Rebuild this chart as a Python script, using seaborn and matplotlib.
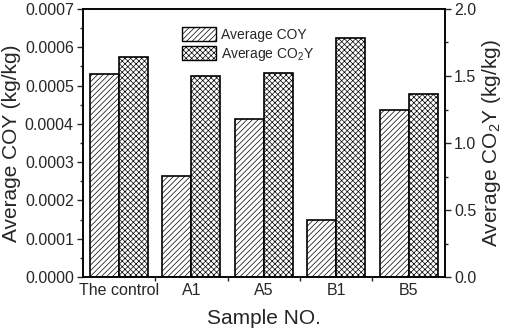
import pandas as pd
import matplotlib.pyplot as plt
import seaborn as sns
from matplotlib.patches import Patch
from matplotlib.ticker import MultipleLocator, FormatStrFormatter

# values
samples = ['The control', 'A1', 'A5', 'B1', 'B5']
coy = [0.000530, 0.000264, 0.000414, 0.000148, 0.000436]
co2y = [1.644, 1.500, 1.525, 1.784, 1.366]
series = ['Average COY', 'Average CO$_2$Y']
hatches = ['//////', 'xxxxxx']

df_coy = pd.DataFrame({'sample': samples, 'value': coy, 'series': series[0]})
df_co2y = pd.DataFrame({'sample': samples, 'value': co2y, 'series': series[1]})

sns.set_style('ticks')
plt.rcParams['font.family'] = ['Liberation Sans', 'DejaVu Sans']
plt.rcParams['mathtext.default'] = 'regular'
plt.rcParams['hatch.linewidth'] = 0.5

fig = plt.figure(figsize=(5.05, 3.33), dpi=100)
ax1 = fig.add_axes([0.164, 0.168, 0.717, 0.805])
ax2 = ax1.twinx()

# same hue_order on both axes so each series keeps its own dodge slot
sns.barplot(data=df_coy, x='sample', y='value', hue='series', hue_order=series,
            order=samples, ax=ax1, legend=False, width=0.8, dodge=True)
sns.barplot(data=df_co2y, x='sample', y='value', hue='series', hue_order=series,
            order=samples, ax=ax2, legend=False, width=0.8, dodge=True)

for ax, h in [(ax1, hatches[0]), (ax2, hatches[1])]:
    for p in ax.patches:
        p.set_facecolor('white')
        p.set_edgecolor('black')
        p.set_linewidth(1.2)
        p.set_hatch(h)

ax1.set_xlim(-0.5, 4.5)
ax1.set_ylim(0, 0.0007)
ax2.set_ylim(0, 2.0)

ax1.yaxis.set_major_locator(MultipleLocator(0.0001))
ax1.yaxis.set_minor_locator(MultipleLocator(0.00005))
ax1.yaxis.set_major_formatter(FormatStrFormatter('%.4f'))
ax2.yaxis.set_major_locator(MultipleLocator(0.5))
ax2.yaxis.set_minor_locator(MultipleLocator(0.25))
ax2.yaxis.set_major_formatter(FormatStrFormatter('%.1f'))

ax1.set_xticks(range(len(samples)))
ax1.set_xticklabels(samples)
ax1.set_xticks([0.5, 1.5, 2.5, 3.5], minor=True)
ax1.tick_params(axis='x', which='major', length=0, labelsize=11.5, pad=4)
ax1.tick_params(axis='x', which='minor', length=3, width=1, direction='out')
for ax in (ax1, ax2):
    ax.tick_params(axis='y', which='major', length=4, width=1, direction='out',
                   labelsize=11.5, pad=2.5)
    ax.tick_params(axis='y', which='minor', length=2.5, width=1, direction='out')
    for s in ax.spines.values():
        s.set_visible(True)
        s.set_linewidth(1.1)
        s.set_color('black')

ax1.set_xlabel('Sample NO.', fontsize=15, labelpad=8)
ax1.set_ylabel('Average COY (kg/kg)', fontsize=15, labelpad=3)
ax2.set_ylabel('Average CO$_2$Y (kg/kg)', fontsize=15, labelpad=3)

handles = [Patch(facecolor='white', edgecolor='black', hatch=h, label=s)
           for s, h in zip(series, hatches)]
ax1.legend(handles=handles, loc='upper left', bbox_to_anchor=(0.24, 0.98),
           frameon=False, fontsize=10, handlelength=2.4, handleheight=1.2,
           handletextpad=0.4, labelspacing=0.3)

fig.savefig('out.png', dpi=100)
